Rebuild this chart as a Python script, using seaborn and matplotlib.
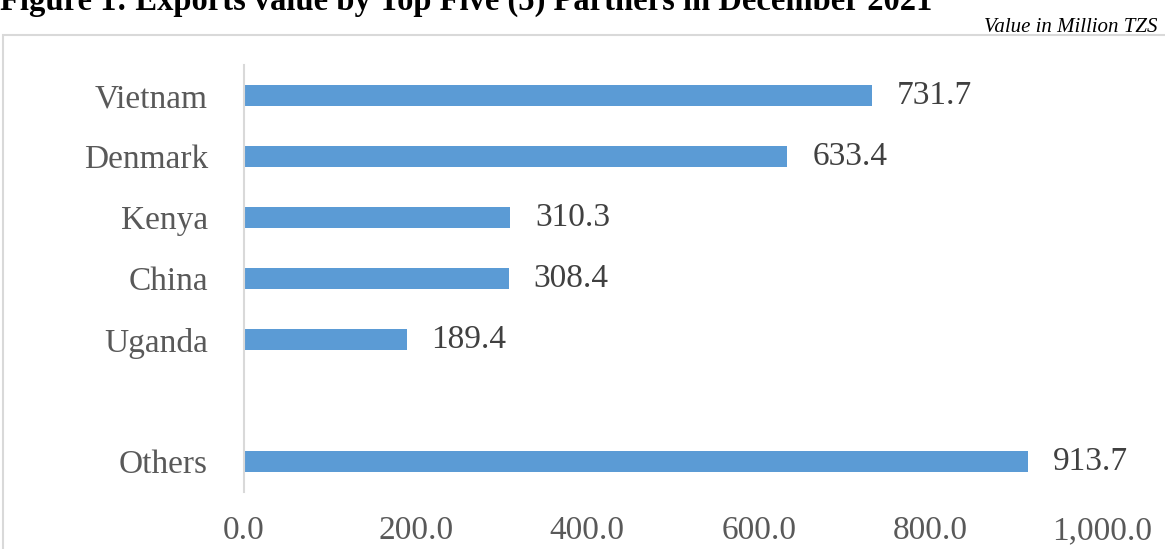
import matplotlib
matplotlib.use("Agg")
import matplotlib.pyplot as plt
import seaborn as sns
import pandas as pd
from matplotlib.patches import Rectangle

countries = ["Vietnam", "Denmark", "Kenya", "China", "Uganda", "Others"]
values = [731.7, 633.4, 310.3, 308.4, 189.4, 913.7]
order = ["Vietnam", "Denmark", "Kenya", "China", "Uganda", " ", "Others"]
xticks = [0, 200, 400, 600, 800, 1000]
xtick_labels = ["0.0", "200.0", "400.0", "600.0", "800.0", "1,000.0"]

sns.set_theme(style="white")
plt.rcParams['font.family'] = ['Liberation Serif', 'DejaVu Serif']

df = pd.DataFrame({"country": countries, "value": values})

fig = plt.figure(figsize=(11.65, 5.49), dpi=100)
ax = fig.add_axes([244/1165, 1-492/549, (1102-244)/1165, (492-65)/549])

sns.barplot(data=df, x="value", y="country", order=order, orient="h",
            color="#5B9BD5", saturation=1, width=0.34, linewidth=0, ax=ax)

ax.set_xlim(0, 1000)
ax.set_ylim(6.5, -0.5)
ax.set_xticks(xticks)
ax.set_xticklabels(xtick_labels)
ax.set_xlabel("")
ax.set_ylabel("")
for s in ["top", "right", "bottom"]:
    ax.spines[s].set_visible(False)
ax.spines["left"].set_color("#d9d9d9")
ax.spines["left"].set_linewidth(1.5)
ax.tick_params(axis="x", length=0, pad=17, labelsize=24, labelcolor="#595959")
ax.tick_params(axis="y", length=0, pad=26, labelsize=24, labelcolor="#595959")

for c in ax.containers:
    ax.bar_label(c, fmt="%.1f", padding=18, fontsize=24, color="#404040")

# chart border
fig.patches.append(Rectangle((3/1165, -0.1), 1.2, 1-35/549+0.1, transform=fig.transFigure,
                             fill=False, edgecolor="#d9d9d9", linewidth=1.5))

fig.text(0.0, 1-10/549, "Figure 1: Exports value by Top Five (5) Partners in December 2021",
         fontsize=23.5, fontweight="bold", ha="left", va="baseline", color="black")
fig.text(1158/1165, 1-27/549, "Value in Million TZS", fontsize=15, fontstyle="italic",
         ha="right", va="center", color="black")

fig.savefig("out.png", dpi=100)
